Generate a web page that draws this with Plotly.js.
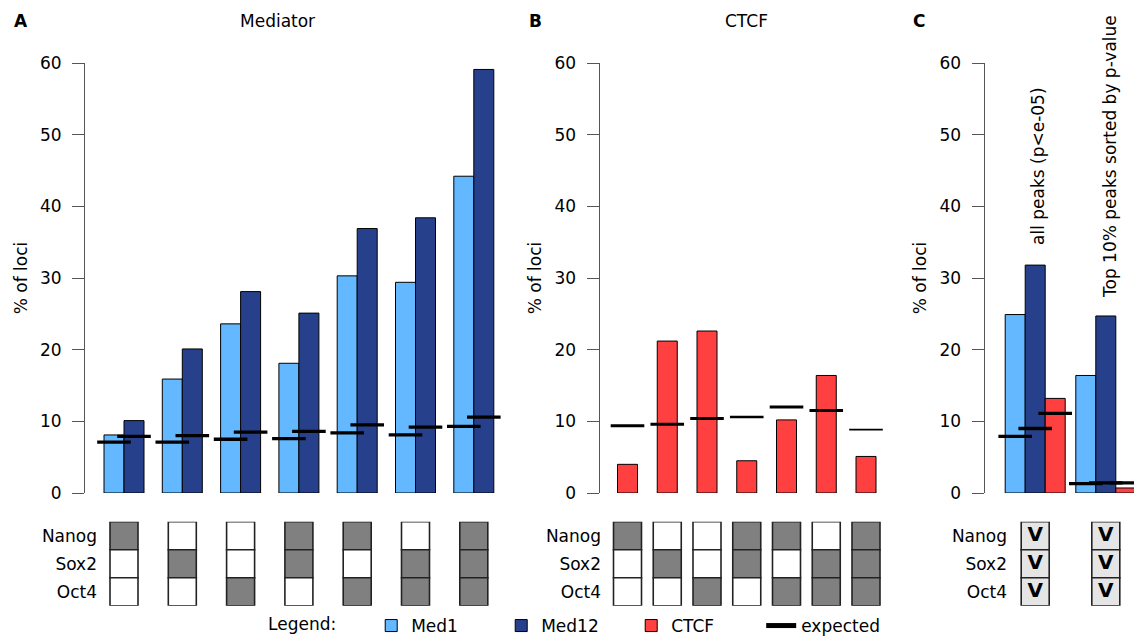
<!DOCTYPE html>
<html><head><meta charset="utf-8">
<script src="https://cdn.plot.ly/plotly-3.0.1.min.js"></script>
<style>html,body{margin:0;padding:0;background:#fff}#chart{width:1134px;height:644px}</style>
</head><body><div id="chart"></div>
<script>
// ---------------- data ----------------
const combos = ['Nanog', 'Sox2', 'Oct4', 'Nanog+Sox2', 'Nanog+Oct4', 'Sox2+Oct4', 'Nanog+Sox2+Oct4'];
const med1A = [8.1, 15.9, 23.6, 18.1, 30.3, 29.4, 44.2];
const med12A = [10.1, 20.1, 28.1, 25.1, 36.9, 38.4, 59.1];
const expMed1A = [7.1, 7.1, 7.5, 7.6, 8.4, 8.1, 9.3];
const expMed12A = [7.9, 8.0, 8.5, 8.6, 9.5, 9.2, 10.6];
const ctcfB = [4.0, 21.2, 22.6, 4.5, 10.2, 16.4, 5.1];
const expCtcfB = [9.4, 9.6, 10.4, 10.6, 12.0, 11.5, 8.85];
const peakSets = ['all peaks', 'top 10%'];
const med1C = [24.9, 16.4];
const med12C = [31.8, 24.7];
const ctcfC = [13.2, 0.7];
const expMed1C = [7.9, 1.3];
const expMed12C = [9.0, 1.4];
const expCtcfC = [11.1, 1.4];
const factors = ['Nanog', 'Sox2', 'Oct4'];
const nanogBound = [1, 0, 0, 1, 1, 0, 1];
const sox2Bound = [0, 1, 0, 1, 0, 1, 1];
const oct4Bound = [0, 0, 1, 0, 1, 1, 1];
const cMarks = ['V', 'V'];
const yTicks = [0, 10, 20, 30, 40, 50, 60];
const peakSetNotes = ['all peaks (p&lt;e-05)', 'Top 10% peaks sorted by p-value'];

// ---------------- styling / geometry ----------------
const W = 1134, H = 644;
const FONT = 'DejaVu Sans';
const C_MED1 = '#63B8FF', C_MED12 = '#27408B', C_CTCF = '#FF4040';
const AX = '#555555';
const px2x = p => p / W;
const px2y = p => 1 - p / H;
const rangeOf = g => [1 + (g.a - g.c1) / g.s, 1 + (g.b - g.c1) / g.s];
const PA = {a: 85, b: 505, c1: 124, s: 58.3};
const PB = {a: 599.5, b: 885, c1: 627.5, s: 39.75};
const PC = {a: 984.5, b: 1134, c1: 1035.2, s: 70.6};
const BW = 20, CW = 28;
const expWidthB = [3, 3, 3, 2.5, 3, 3, 1.8];

const xsA = combos.map((_, i) => i + 1);
const xsC = peakSets.map((_, i) => i + 1);

const traces = [];
const barLine = {color: '#000', width: 1};
function bar(name, xs, ys, color, g, off, xa, ya, show, group) {
  traces.push({type: 'bar', name: name, legendgroup: group, showlegend: show,
    x: xs, y: ys, xaxis: xa, yaxis: ya, width: BW / g.s, offset: off / g.s,
    marker: {color: color, line: barLine}, hoverinfo: 'skip'});
}
function expected(xs, ys, g, shift, xa, ya, lw) {
  traces.push({type: 'scatter', mode: 'markers', name: 'expected', legendgroup: 'exp', showlegend: false,
    x: xs.map(x => x + shift / g.s), y: ys, xaxis: xa, yaxis: ya, cliponaxis: false,
    marker: {symbol: 'line-ew', size: 24, color: '#000', line: {color: '#000', width: lw}}, hoverinfo: 'skip'});
}
// Panel A
bar('Med1', xsA, med1A, C_MED1, PA, -BW, 'x', 'y', true, 'med1');
bar('Med12', xsA, med12A, C_MED12, PA, 0, 'x', 'y', true, 'med12');
// Panel B
bar('CTCF', xsA, ctcfB, C_CTCF, PB, -BW / 2, 'x2', 'y2', true, 'ctcf');
// Panel C
bar('Med1', xsC, med1C, C_MED1, PC, -1.5 * BW, 'x3', 'y3', false, 'med1');
bar('Med12', xsC, med12C, C_MED12, PC, -0.5 * BW, 'x3', 'y3', false, 'med12');
bar('CTCF', xsC, ctcfC, C_CTCF, PC, 0.5 * BW, 'x3', 'y3', false, 'ctcf');
// expected
expected(xsA, expMed1A, PA, -BW / 2, 'x', 'y', 3.3);
expected(xsA, expMed12A, PA, BW / 2, 'x', 'y', 3.3);
expected(xsA, expCtcfB, PB, 0, 'x2', 'y2', expWidthB);
expected(xsC, expMed1C, PC, -BW, 'x3', 'y3', 3.3);
expected(xsC, expMed12C, PC, 0, 'x3', 'y3', 3.3);
expected(xsC, expCtcfC, PC, BW, 'x3', 'y3', 3.3);
// legend entry for expected
traces.push({type: 'scatter', mode: 'lines', name: 'expected', legendgroup: 'exp', showlegend: true,
  x: [null], y: [null], line: {color: '#000', width: 5}, xaxis: 'x', yaxis: 'y'});

// binding cells
const rows = [nanogBound, sox2Bound, oct4Bound];
function cells(xs, g, xa, ya, colorFn) {
  rows.forEach((r, ri) => {
    traces.push({type: 'bar', showlegend: false, x: xs, y: xs.map(() => 1), base: ri,
      xaxis: xa, yaxis: ya, width: CW / g.s, offset: -CW / 2 / g.s,
      marker: {color: xs.map((_, i) => colorFn(r, i)), line: {color: '#222', width: 1.6}}, hoverinfo: 'skip'});
  });
}
cells(xsA, PA, 'x', 'y4', (r, i) => r[i] ? '#808080' : '#ffffff');
cells(xsA, PB, 'x2', 'y5', (r, i) => r[i] ? '#808080' : '#ffffff');
cells(xsC, PC, 'x3', 'y6', () => '#e5e5e5');
factors.forEach((f, ri) => {
  traces.push({type: 'scatter', mode: 'text', showlegend: false, x: xsC, y: xsC.map(() => ri + 0.5),
    text: cMarks, xaxis: 'x3', yaxis: 'y6', cliponaxis: false,
    textfont: {family: FONT, size: 20, weight: 'bold', color: '#000'}, hoverinfo: 'skip'});
});

// ---------------- layout ----------------
const yDom = [px2y(493), px2y(63)];
const cellDom = [px2y(605.7), px2y(521.7)];
function xAxis(g, anchor) {
  return {domain: [px2x(g.a), px2x(g.b)], range: rangeOf(g), anchor: anchor, visible: false, fixedrange: true};
}
function yAxis(anchor) {
  return {domain: yDom, range: [0, 60], anchor: anchor, tickvals: yTicks, ticks: 'outside', ticklen: 12,
    tickcolor: AX, tickwidth: 1, showline: true, linecolor: AX, linewidth: 1, showgrid: false, zeroline: false,
    ticklabelstandoff: 7, tickfont: {family: FONT, size: 17, color: '#000'},
    title: {text: '% of loci', font: {family: FONT, size: 17, color: '#000'}, standoff: 8}};
}
function cellAxis(pos) {
  return {domain: cellDom, range: [3, 0], anchor: 'free', position: px2x(pos), tickvals: [0.5, 1.5, 2.5],
    ticktext: factors, ticks: '', showline: false, showgrid: false, zeroline: false,
    tickfont: {family: FONT, size: 17, color: '#000'}};
}
const ann = (text, xp, yp, extra) => Object.assign({text: text, x: px2x(xp), y: px2y(yp), xref: 'paper', yref: 'paper',
  showarrow: false, xanchor: 'center', yanchor: 'middle', font: {family: FONT, size: 17, color: '#000'}}, extra || {});
const layout = {
  width: W, height: H, margin: {l: 0, r: 0, t: 0, b: 0}, paper_bgcolor: '#fff', plot_bgcolor: 'rgba(0,0,0,0)',
  barmode: 'overlay', font: {family: FONT, size: 17, color: '#000'},
  xaxis: xAxis(PA, 'y'), xaxis2: xAxis(PB, 'y2'), xaxis3: xAxis(PC, 'y3'),
  yaxis: yAxis('x'), yaxis2: yAxis('x2'), yaxis3: yAxis('x3'),
  yaxis4: cellAxis(97), yaxis5: cellAxis(601), yaxis6: cellAxis(1007),
  showlegend: true,
  legend: {orientation: 'h', x: px2x(266), xanchor: 'left', y: px2y(626), yanchor: 'middle',
    title: {text: 'Legend:\u00a0\u00a0\u00a0\u00a0\u00a0', side: 'left', font: {family: FONT, size: 17}},
    font: {family: FONT, size: 17, color: '#000'}, bgcolor: 'rgba(0,0,0,0)', entrywidth: 85, traceorder: 'normal'},
  annotations: [
    ann('<b>A</b>', 21, 21), ann('<b>B</b>', 535, 21), ann('<b>C</b>', 918.5, 21),
    ann('Mediator', 277, 21), ann('CTCF', 746.7, 21),
    ann(peakSetNotes[0], 1038, 166, {textangle: -90}),
    ann(peakSetNotes[1], 1110, 157, {textangle: -90})
  ]
};
Plotly.newPlot('chart', traces, layout, {staticPlot: true, displayModeBar: false});
</script></body></html>
